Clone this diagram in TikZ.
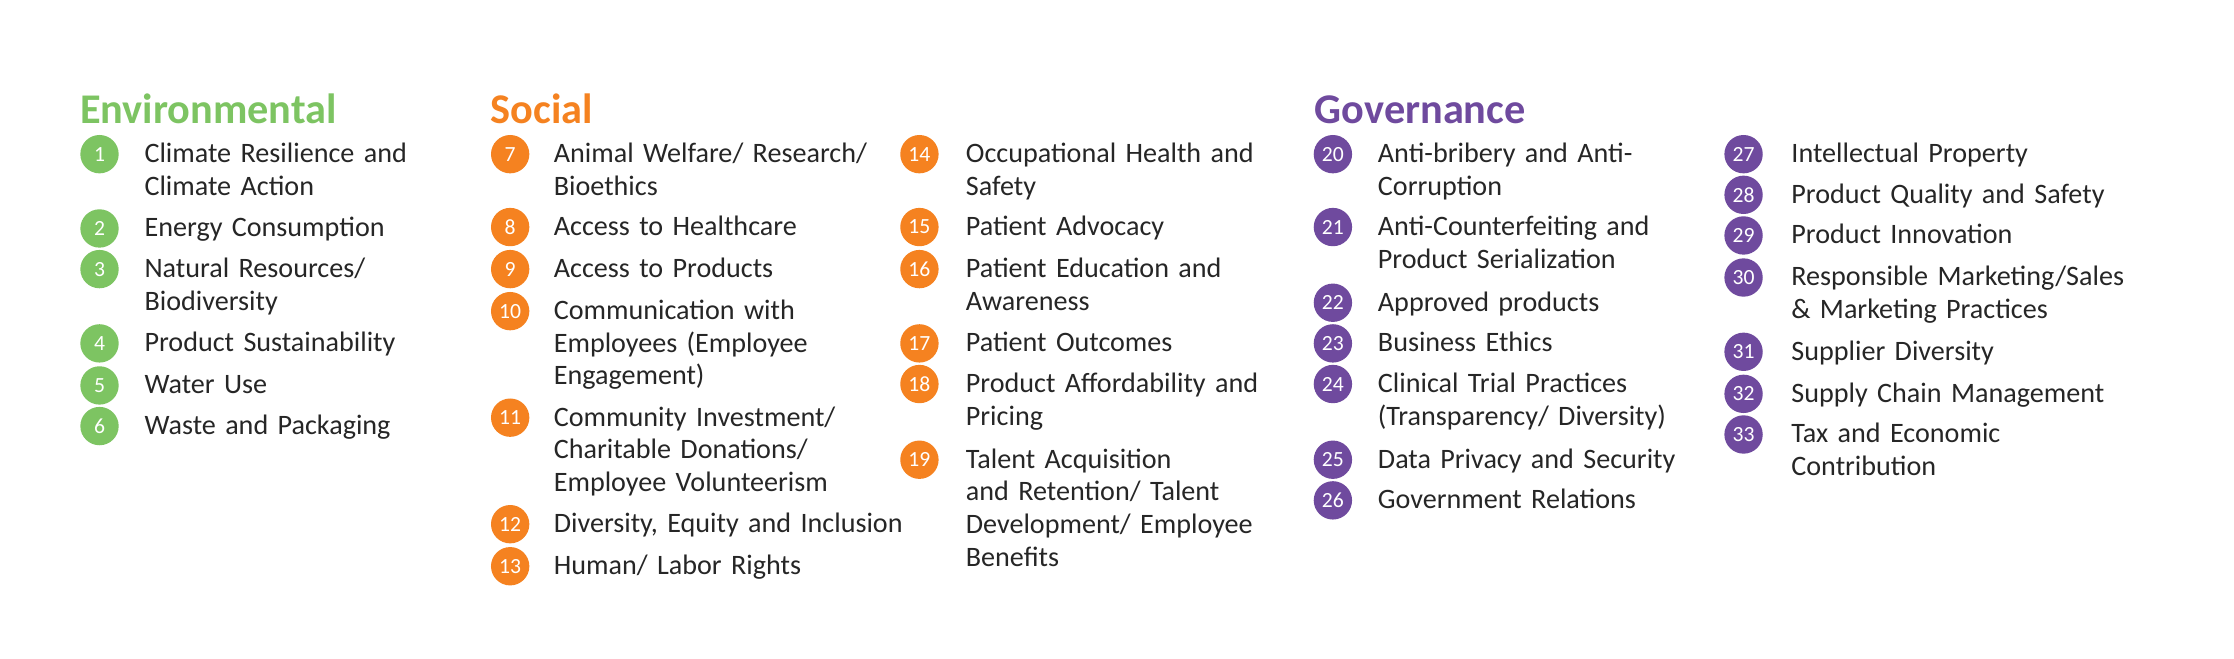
\documentclass[tikz,border=0pt]{standalone}
\usepackage{fontspec}
\setmainfont{Carlito}
\definecolor{envg}{HTML}{7DC462}
\definecolor{soco}{HTML}{F58220}
\definecolor{govp}{HTML}{6F4A9E}
\newcommand{\mitem}[7]{%
  \node[numc,fill=#6] (c#5) at (#2,#4) {#5};
  \node[itm] (t#5) at (#3,#4+6) {#7};
}
\begin{document}
\begin{tikzpicture}[x=1.425pt,y=-1.425pt,
  numc/.style={circle,minimum size=39pt,inner sep=0pt,text=white,font=\fontsize{22}{22}\selectfont},
  itm/.style={anchor=base west,inner sep=0pt,text width=450pt,align=left,font=\fontsize{28.6}{33.2}\selectfont\color{black!85}},
  ttl/.style={anchor=base west,inner sep=0pt,font=\fontsize{43}{45}\selectfont\bfseries}]
\fill[white] (0,0) rectangle (1568,470);
\node[ttl,text=envg] (te) at (57,88) {Environmental};
\node[ttl,text=soco] (ts) at (350,88) {Social};
\node[ttl,text=govp] (tg) at (938,88) {Governance};
\mitem{}{71}{103}{110}{1}{envg}{Climate Resilience and\\Climate Action}
\mitem{}{71}{103}{163}{2}{envg}{Energy Consumption}
\mitem{}{71}{103}{192}{3}{envg}{Natural Resources/\\Biodiversity}
\mitem{}{71}{103}{245}{4}{envg}{Product Sustainability}
\mitem{}{71}{103}{275}{5}{envg}{Water Use}
\mitem{}{71}{103}{304}{6}{envg}{Waste and Packaging}
\mitem{}{364}{395}{110}{7}{soco}{Animal Welfare/ Research/\\Bioethics}
\mitem{}{364}{395}{162}{8}{soco}{Access to Healthcare}
\mitem{}{364}{395}{192}{9}{soco}{Access to Products}
\mitem{}{364}{395}{222}{10}{soco}{Communication with\\Employees (Employee\\Engagement)}
\mitem{}{364}{395}{298}{11}{soco}{Community Investment/\\Charitable Donations/\\Employee Volunteerism}
\mitem{}{364}{395}{374}{12}{soco}{Diversity, Equity and Inclusion}
\mitem{}{364}{395}{404}{13}{soco}{Human/ Labor Rights}
\mitem{}{656}{689}{110}{14}{soco}{Occupational Health and\\Safety}
\mitem{}{656}{689}{162}{15}{soco}{Patient Advocacy}
\mitem{}{656}{689}{192}{16}{soco}{Patient Education and\\Awareness}
\mitem{}{656}{689}{245}{17}{soco}{Patient Outcomes}
\mitem{}{656}{689}{274}{18}{soco}{Product Affordability and\\Pricing}
\mitem{}{656}{689}{328}{19}{soco}{Talent Acquisition\\and Retention/ Talent\\Development/ Employee\\Benefits}
\mitem{}{951}{983}{110}{20}{govp}{Anti-bribery and Anti-\\Corruption}
\mitem{}{951}{983}{162}{21}{govp}{Anti-Counterfeiting and\\Product Serialization}
\mitem{}{951}{983}{216}{22}{govp}{Approved products}
\mitem{}{951}{983}{245}{23}{govp}{Business Ethics}
\mitem{}{951}{983}{274}{24}{govp}{Clinical Trial Practices\\(Transparency/ Diversity)}
\mitem{}{951}{983}{328}{25}{govp}{Data Privacy and Security}
\mitem{}{951}{983}{357}{26}{govp}{Government Relations}
\mitem{}{1244}{1278}{110}{27}{govp}{Intellectual Property}
\mitem{}{1244}{1278}{139}{28}{govp}{Product Quality and Safety}
\mitem{}{1244}{1278}{168}{29}{govp}{Product Innovation}
\mitem{}{1244}{1278}{198}{30}{govp}{Responsible Marketing/Sales\\\& Marketing Practices}
\mitem{}{1244}{1278}{251}{31}{govp}{Supplier Diversity}
\mitem{}{1244}{1278}{281}{32}{govp}{Supply Chain Management}
\mitem{}{1244}{1278}{310}{33}{govp}{Tax and Economic\\Contribution}
\useasboundingbox (0,0) rectangle (1568,470);
\end{tikzpicture}
\end{document}
